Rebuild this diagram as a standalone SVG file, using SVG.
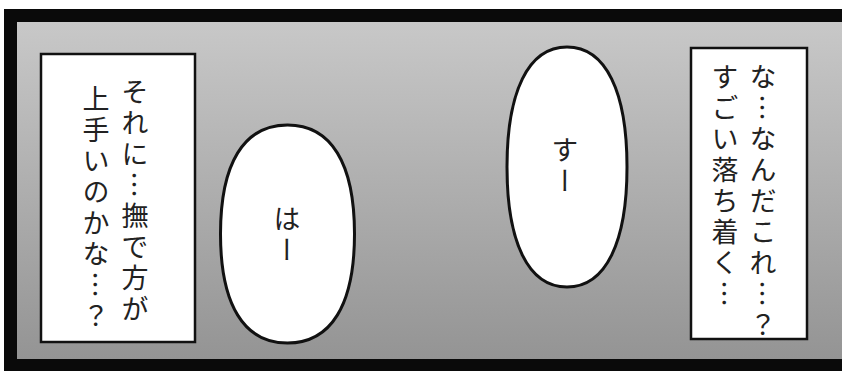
<svg xmlns="http://www.w3.org/2000/svg" width="842" height="371" viewBox="0 0 842 371">
<defs>
<linearGradient id="bg" x1="0" y1="0" x2="0" y2="1">
<stop offset="0" stop-color="#c8c8c8"/>
<stop offset="1" stop-color="#949494"/>
</linearGradient>
<style>
.box{fill:#fff;stroke:#111;stroke-width:2.5}
.bub{fill:#fff;stroke:#111;stroke-width:3}
.vt{font-family:"Noto Sans CJK JP","Noto Sans",sans-serif;font-size:27px;letter-spacing:4px;writing-mode:vertical-rl;fill:#222}
</style>
</defs>
<rect x="0" y="0" width="842" height="371" fill="#fff"/>
<rect x="4" y="9" width="838" height="362" fill="#0a0a0a"/>
<rect x="17" y="22" width="825" height="337" fill="url(#bg)"/>
<g id="box-left">
<rect class="box" x="41" y="54" width="154" height="288"/>
<text class="vt" x="135" y="78">それに…撫で方が</text>
<text class="vt" x="96" y="85">上手いのかな…？</text>
</g>
<g id="bubble-ha">
<path class="bub" d="M287.5,125 C331,125 354.5,163 354.5,234 C354.5,305 331,343 287.5,343 C244,343 220.5,305 220.5,234 C220.5,163 244,125 287.5,125 Z"/>
<text class="vt" x="287" y="205">はー</text>
</g>
<g id="bubble-su">
<path class="bub" d="M567,47 C606,47 627,92 627,167 C627,242 606,287 567,287 C528,287 507,242 507,167 C507,92 528,47 567,47 Z"/>
<text class="vt" x="565" y="136">すー</text>
</g>
<g id="box-right">
<rect class="box" x="691" y="48" width="116" height="291"/>
<text class="vt" x="763" y="63">な…なんだこれ…？</text>
<text class="vt" x="725" y="63">すごい落ち着く…</text>
</g>
<g id="connectors"/>
</svg>
